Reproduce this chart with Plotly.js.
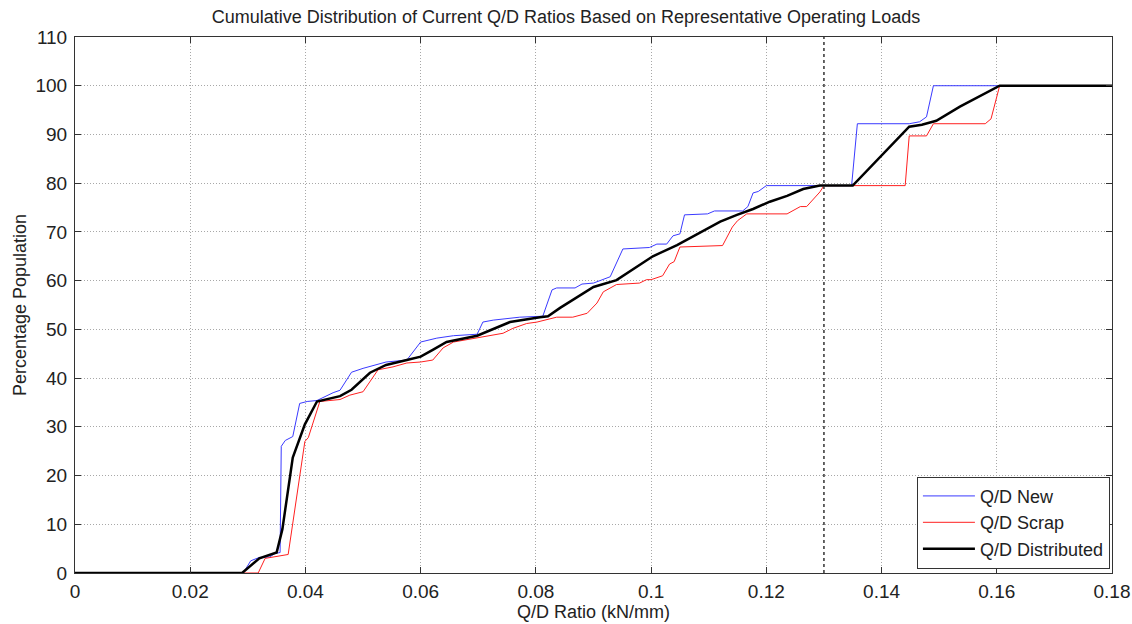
<!DOCTYPE html>
<html><head><meta charset="utf-8">
<script src="https://cdn.plot.ly/plotly-3.0.1.min.js"></script>
<style>html,body{margin:0;padding:0;background:#fff}#chart{width:1132px;height:624px}</style>
</head><body><div id="chart"></div>
<script>
// Q/D New
const newX = [0,0.0292,0.0305,0.032,0.0338,0.0347,0.0356,0.0358,0.0365,0.0378,0.039,0.0403,0.042,0.0448,0.046,0.048,0.050,0.0524,0.054,0.0576,0.060,0.0628,0.0657,0.0698,0.0708,0.0726,0.0772,0.0812,0.0828,0.0836,0.0868,0.088,0.09,0.0929,0.0951,0.0997,0.101,0.1027,0.1038,0.105,0.1058,0.1098,0.111,0.1159,0.1168,0.1177,0.1186,0.12,0.1348,0.1358,0.1448,0.1466,0.1478,0.149,0.18];
const newY = [0,0,2.5,3.2,3.3,4,4.2,26,27.2,28,34.8,35.2,35.4,37,37.5,41.2,42,42.7,43.3,43.7,47.4,48.2,48.7,49,51.5,51.9,52.5,52.7,58.1,58.5,58.5,59.3,59.5,60.8,66.5,66.8,67.5,67.5,69.2,69.6,73.5,73.7,74.3,74.3,75.2,78,78.3,79.5,79.5,92.2,92.2,92.6,93.6,100,100];
// Q/D Scrap
const scrapX = [0,0.0318,0.033,0.0345,0.037,0.0399,0.0405,0.0425,0.046,0.0477,0.050,0.0526,0.0552,0.0576,0.06,0.0621,0.0639,0.0657,0.0698,0.0743,0.076,0.0784,0.0802,0.0836,0.0864,0.0889,0.0906,0.0917,0.094,0.098,0.0992,0.1,0.102,0.1032,0.104,0.105,0.1124,0.1141,0.115,0.1166,0.1236,0.1259,0.127,0.1293,0.1300,0.1441,0.1448,0.1478,0.149,0.158,0.159,0.1605,0.18];
const scrapY = [0,0,3,3.3,3.8,27,27.8,35.2,35.6,36.5,37.2,41.7,42.3,43.1,43.3,43.7,46.2,47.4,48.2,49.2,50.2,51.2,51.5,52.5,52.5,53.3,55.4,57.7,59.2,59.5,60.2,60.2,61,63.4,63.9,66.9,67.2,71,72.3,73.7,73.7,75.2,75.2,78.2,79.5,79.5,89.7,89.7,92.2,92.2,93.2,100,100];
// Q/D Distributed
const distX = [0,0.029,0.032,0.035,0.036,0.0368,0.0378,0.0399,0.042,0.046,0.048,0.0512,0.054,0.0576,0.06,0.0621,0.0645,0.0698,0.0755,0.0807,0.0821,0.0842,0.0871,0.09,0.094,0.098,0.1003,0.1045,0.109,0.112,0.1149,0.1177,0.1206,0.1236,0.1264,0.1293,0.135,0.1397,0.1448,0.147,0.1495,0.1536,0.158,0.1605,0.18];
const distY = [0,0,3,4.2,9,15.2,23.7,30.5,35.2,36.3,37.6,41.1,42.7,43.7,44.4,45.8,47.4,48.7,51.5,52.5,52.7,54.4,56.6,58.7,60.1,63.2,65,67.3,70.2,72.1,73.5,74.7,76.2,77.4,78.8,79.5,79.5,85.4,91.6,92,92.8,95.7,98.5,100,100];
const markerX = 0.13;
const xTicks = [0,0.02,0.04,0.06,0.08,0.1,0.12,0.14,0.16,0.18];
const xTickText = ["0","0.02","0.04","0.06","0.08","0.1","0.12","0.14","0.16","0.18"];
const yTicks = [0,10,20,30,40,50,60,70,80,90,100,110];

const font = "Liberation Sans, Arial, sans-serif";
const fs = 18;
const traces = [
  {x:newX,y:newY,name:"Q/D New",mode:"lines",line:{color:"#3a3aff",width:1}},
  {x:scrapX,y:scrapY,name:"Q/D Scrap",mode:"lines",line:{color:"#ff2020",width:1}},
  {x:distX,y:distY,name:"Q/D Distributed",mode:"lines",line:{color:"#000",width:2.5}}
];
const axisCommon = {showline:true,linecolor:"#333",linewidth:1,mirror:"ticks",ticks:"inside",ticklen:6,tickcolor:"#333",
  showgrid:true,gridcolor:"#a8a8a8",griddash:"1px,2px",gridwidth:1,zeroline:false,automargin:false,
  tickfont:{family:font,size:19,color:"#222"}};
const layout = {
  width:1132,height:624,paper_bgcolor:"#fff",plot_bgcolor:"#fff",
  margin:{l:75,r:20,t:37,b:51},
  title:{text:"Cumulative Distribution of Current Q/D Ratios Based on Representative Operating Loads",
    font:{family:font,size:fs,color:"#222"},x:0.5,xanchor:"center",y:0.984,yanchor:"top"},
  xaxis:Object.assign({},axisCommon,{range:[0,0.18],tickvals:xTicks,ticktext:xTickText,ticklabelstandoff:1,
    title:{text:"Q/D Ratio (kN/mm)",font:{family:font,size:fs,color:"#222"},standoff:0}}),
  yaxis:Object.assign({},axisCommon,{range:[0,110],tickvals:yTicks,ticklabelstandoff:3,
    title:{text:"Percentage Population",font:{family:font,size:fs,color:"#222"},standoff:4}}),
  shapes:[{type:"line",xref:"x",yref:"paper",x0:markerX,x1:markerX,y0:0,y1:1,line:{color:"#333",width:1.5,dash:"dot"}}],
  legend:{x:0.998,y:0.008,xanchor:"right",yanchor:"bottom",bgcolor:"#fff",bordercolor:"#333",borderwidth:1,
    font:{family:font,size:fs,color:"#222"},itemwidth:52,tracegroupgap:0},
  showlegend:true
};
Plotly.newPlot("chart",traces,layout,{displayModeBar:false,staticPlot:true});
</script></body></html>
